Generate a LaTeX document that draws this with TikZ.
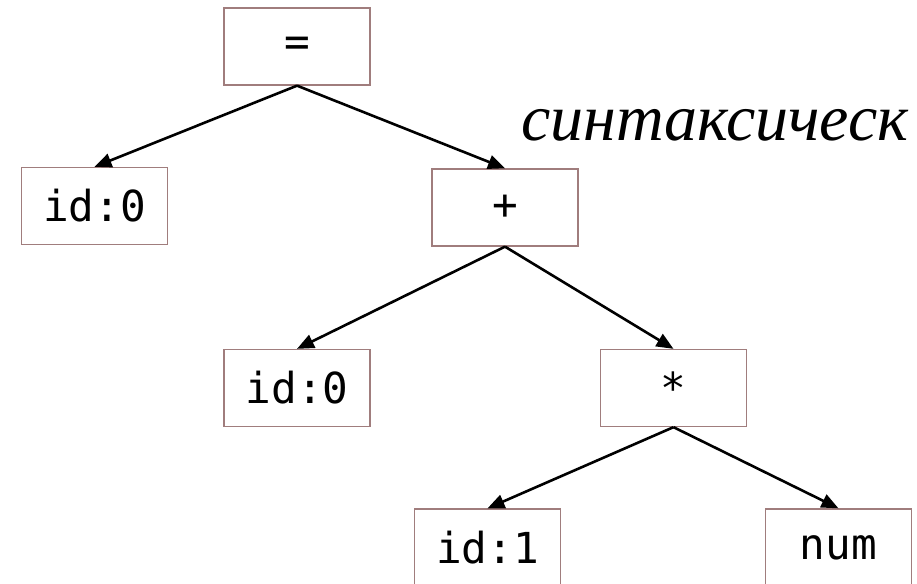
\documentclass[tikz,border=0pt]{standalone}
\usepackage{fontspec}
\setmonofont{DejaVu Sans Mono}
\newfontfamily\cyrit{Liberation Serif}
\usetikzlibrary{arrows.meta}
\definecolor{boxline}{RGB}{160,125,125}
\tikzset{
  treebox/.style={draw=boxline, line width=1.3pt, rectangle, minimum width=146pt, minimum height=77pt, inner sep=0pt, font=\fontsize{42.7}{48}\selectfont\ttfamily},
  edge/.style={line width=2.6pt, -{Triangle[length=17pt,width=14pt]}}
}
\begin{document}
\begin{tikzpicture}[x=1pt,y=-1pt]
\useasboundingbox (0,0) rectangle (917,583);
\begin{scope}
\clip (0,0) rectangle (917,583);
\node[treebox] (eq) at (297,46.5) {=};
\node[treebox] (ida) at (94.5,206) {id:0};
\node[treebox] (plus) at (505,207.5) {+};
\node[treebox] (idb) at (297,388) {id:0};
\node[treebox] (mul) at (673.5,388) {*};
\node[treebox] (idc) at (487.5,547.5) {id:1};
\node[treebox] (num) at (838.5,547.5) {num};
\node[anchor=base west, inner sep=0pt, font=\fontsize{66}{72}\selectfont\cyrit\itshape] (title) at (521,140) {синтаксическ};
\draw[edge] (eq.south) -- (ida.north);
\draw[edge] (eq.south) -- (plus.north);
\draw[edge] (plus.south) -- (idb.north);
\draw[edge] (plus.south) -- (mul.north);
\draw[edge] (mul.south) -- (idc.north);
\draw[edge] (mul.south) -- (num.north);
\end{scope}
\end{tikzpicture}
\end{document}
